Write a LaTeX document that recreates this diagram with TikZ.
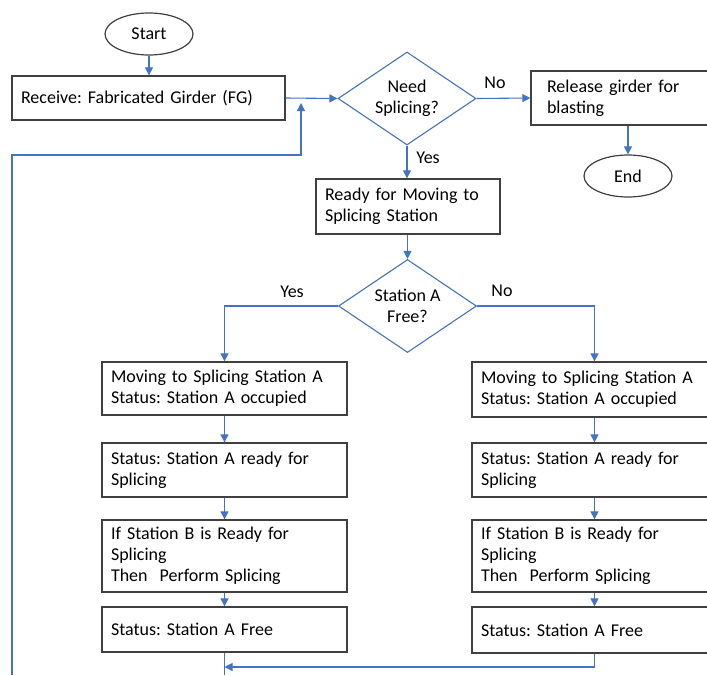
\documentclass[tikz,border=0pt]{standalone}
\usepackage{fontspec}
\setmainfont{Carlito}
\usetikzlibrary{shapes.geometric,arrows.meta}
\definecolor{lblue}{HTML}{4472C4}
\definecolor{dborder}{HTML}{404040}
\newcommand\fsz{\fontsize{18}{21}\selectfont\frenchspacing}
\tikzset{
 box/.style={draw=dborder, line width=1.3pt, rectangle, align=left, inner xsep=9pt, inner ysep=0pt, font=\fsz},
 term/.style={draw=dborder, line width=1.2pt, ellipse, minimum width=88pt, minimum height=42pt, inner sep=0pt, font=\fsz},
 dec/.style={draw=lblue, line width=1.1pt, diamond, aspect=1.48, minimum width=138pt, minimum height=93pt, inner sep=0pt, align=center, font=\fsz},
 flow/.style={draw=lblue, line width=1.1pt, -{Triangle[length=8pt,width=8pt]}},
 plain/.style={draw=lblue, line width=1.1pt},
 lab/.style={inner sep=0pt, font=\fsz}
}
\begin{document}
\begin{tikzpicture}[x=1pt,y=-1pt]
\useasboundingbox (0,0) rectangle (707,675);
\clip (0,0) rectangle (707,675);
% terminals
\node[term] (start) at (149,34) {Start};
\node[term] (end) at (628,176) {End};
% top row
\node[box, minimum height=44pt, text width=255pt] (recv) at (148.5,98) {Receive: Fabricated Girder (FG)\\[-6pt]};
\node[dec] (need) at (407,98.5) {Need\\Splicing?};
\node[box, minimum height=54pt, inner xsep=16pt, text width=158pt] (rel) at (626,98) {Release girder for\\blasting};
\node[box, minimum height=55pt, text width=166pt] (ready) at (408,206.5) {Ready for Moving to\\Splicing Station};
\node[dec] (sta) at (407.5,306) {Station A\\Free?};
% left column
\node[box, minimum height=53pt, text width=227pt] (L1) at (224.5,388.5) {Moving to Splicing Station A\\Status: Station A occupied};
\node[box, minimum height=54pt, text width=227pt] (L2) at (224.5,470) {Status: Station A ready for\\Splicing};
\node[box, minimum height=72pt, text width=227pt] (L3) at (224.5,556) {If Station B is Ready for\\Splicing\\Then~ Perform Splicing};
\node[box, minimum height=45pt, text width=227pt] (L4) at (224.5,629.5) {Status: Station A Free};
% right column
\node[box, minimum height=55pt, text width=227pt] (R1) at (594.5,389.5) {Moving to Splicing Station A\\Status: Station A occupied};
\node[box, minimum height=54pt, text width=227pt] (R2) at (594.5,470) {Status: Station A ready for\\Splicing};
\node[box, minimum height=72pt, text width=227pt] (R3) at (594.5,556) {If Station B is Ready for\\Splicing\\Then~ Perform Splicing};
\node[box, minimum height=46pt, text width=227pt] (R4) at (594.5,630) {Status: Station A Free};
% labels
\node[lab] (noA) at (495,83) {No};
\node[lab] (yesA) at (428,158) {Yes};
\node[lab] (yesB) at (292,292) {Yes};
\node[lab] (noB) at (502,291) {No};
% coordinates
\coordinate (botL) at (225,675);
\coordinate (mrg) at (0,667);
\coordinate (fbA) at (12,675);
\coordinate (fbB) at (301,155);
\coordinate (fbC) at (301,103);
% connectors
\draw[flow] (start.south) -- (recv.north -| start.south);
\draw[flow] (recv.east) -- (need.west);
\draw[flow] (need.east) -- (rel.west);
\draw[flow] (rel.south -| end.north) -- (end.north);
\draw[flow] (need.south) -- (need.south |- ready.north);
\draw[flow] (ready.south -| sta.north) -- (sta.north);
\draw[flow] (sta.west) -| (L1.north);
\draw[flow] (sta.east) -| (R1.north);
\draw[flow] (L1) -- (L2);
\draw[flow] (L2) -- (L3);
\draw[flow] (L3) -- (L4);
\draw[flow] (R1) -- (R2);
\draw[flow] (R2) -- (R3);
\draw[flow] (R3) -- (R4);
\draw[plain] (L4.south) -- (L4.south |- botL);
\draw[flow] (R4.south) |- (L4.south |- mrg);
\draw[flow] (fbA) |- (fbB) -- (fbC);
\end{tikzpicture}
\end{document}
